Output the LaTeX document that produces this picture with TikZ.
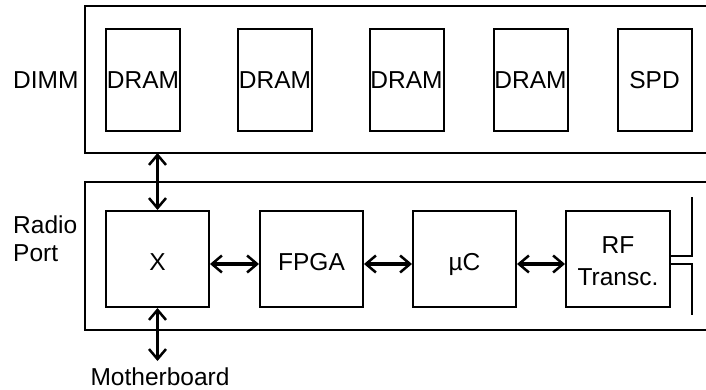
\documentclass[tikz,border=0pt]{standalone}
\usepackage{fontspec}
\setmainfont{Liberation Sans}
\usetikzlibrary{arrows.meta}
\begin{document}
\begin{tikzpicture}[x=1pt,y=-1pt,
  box/.style={draw,line width=2pt,inner sep=0pt,font=\fontsize{24.5}{30}\selectfont},
  chip/.style={box,minimum width=74pt,minimum height=102pt},
  blk/.style={box,minimum width=103pt,minimum height=96pt},
  lbl/.style={font=\fontsize{24.5}{28}\selectfont,inner sep=0pt},
  txt/.style={lbl,anchor=base},
  link/.style={line width=3.5pt,{Straight Barb[length=10pt,width=17pt,line width=2.5pt]}-{Straight Barb[length=10pt,width=17pt,line width=2.5pt]}},
  frame/.style={line width=2pt}]
\useasboundingbox (0,0) rectangle (706,390);
\begin{scope}
\clip (0,0) rectangle (706,390);
\draw[frame] (720,6) -- (85,6) -- (85,153) -- (720,153);
\draw[frame] (720,182) -- (85,182) -- (85,330) -- (720,330);
\end{scope}
\node[lbl,anchor=west] (dimm) at (13,80) {DIMM};
\node[lbl,anchor=west,align=left] (radio) at (13,239) {Radio\\Port};
\node[chip] (d1) at (143,80) {DRAM};
\node[chip] (d2) at (275,80) {DRAM};
\node[chip] (d3) at (406.5,80) {DRAM};
\node[chip] (d4) at (530.5,80) {DRAM};
\node[chip] (spd) at (654.5,80) {SPD};
\node[blk] (x) at (157.5,259) {};
\node[blk] (fpga) at (311.5,259) {};
\node[blk] (uc) at (464.5,259) {};
\node[blk,minimum width=104pt] (rf) at (618,259) {};
\node[txt] (xt) at (x.center |- 0,270) {X};
\node[txt] (fpgat) at (fpga.center |- 0,270) {FPGA};
\node[txt] (uct) at (uc.center |- 0,270) {µC};
\node[txt] (rft1) at (rf.center |- 0,253) {RF};
\node[txt] (rft2) at (rf.center |- 0,285) {Transc.};
\node[lbl] (mb) at (160,377) {Motherboard};
\coordinate (dimmbot) at (157.5,153);
\coordinate (mbtop) at (157.5,361);
\coordinate (ant1) at (692,197);
\coordinate (ant2) at (692,315);
\draw[link] (dimmbot) -- (x.north);
\draw[link] (x.south) -- (mbtop);
\draw[link] (x.east |- 0,264) -- (fpga.west |- 0,264);
\draw[link] (fpga.east |- 0,264) -- (uc.west |- 0,264);
\draw[link] (uc.east |- 0,264) -- (rf.west |- 0,264);
\draw[line width=2.5pt] (rf.east |- 0,256) -| (ant1);
\draw[line width=2.5pt] (rf.east |- 0,264) -| (ant2);
\end{tikzpicture}
\end{document}
